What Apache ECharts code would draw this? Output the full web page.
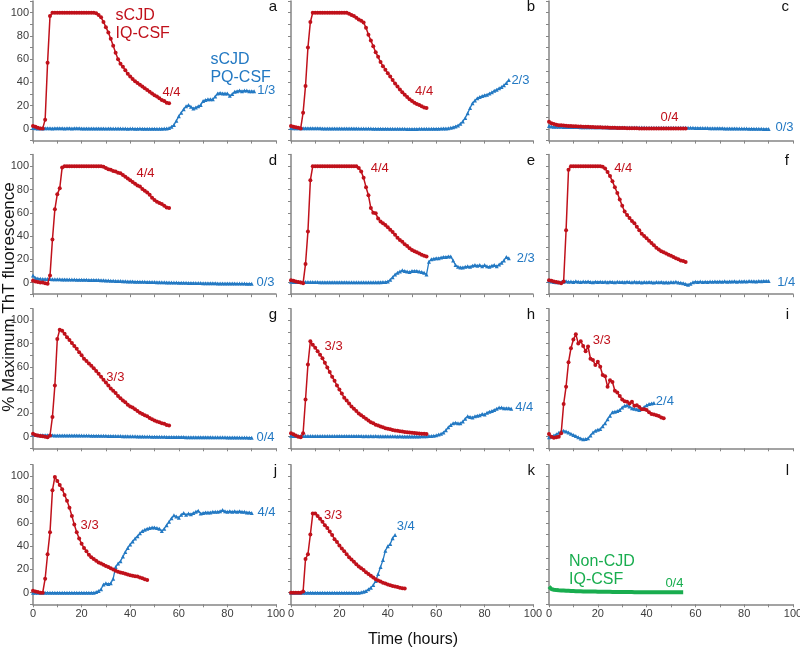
<!DOCTYPE html>
<html><head><meta charset="utf-8">
<script src="https://cdn.jsdelivr.net/npm/echarts@6/dist/echarts.min.js"></script>
<style>html,body{margin:0;padding:0;background:#fff}#c{width:800px;height:650px}</style>
</head><body><div id="c"></div>
<script>
// ---------- DATA (one sample per hour starting at 0 h) ----------
const SAMPLE_STEP_HOURS = 1;
const panelLetters = ['a','b','c','d','e','f','g','h','i','j','k','l'];
const xTickLabels = [0,20,40,60,80,100];
const yTickLabels = [0,20,40,60,80,100];

const red_a = [2.5,2,1,0.5,0.5,8,57,97,100,100, 100,100,100,100,100,100,100,100,100,100, 100,100,100,100,100,100,99.5,98,96,92, 87.5,83,77.5,71.5,65.5,60,56,53.5,50.5,47.5, 45,43,41,39.5,38,36.5,35,33.5,32,30.5, 29,28,26.5,25,24,22.5,22];
const blue_a = [0.8,0.6,0.5,0.6,0.5,0.6,0.7,0.6,0.5,0.6, 0.6,0.7,0.6,0.5,0.6,0.6,0.5,0.6,0.7,0.6, 0.5,0.5,0.4,0.5,0.5,0.4,0.4,0.5,0.4,0.4, 0.3,0.4,0.4,0.3,0.3,0.4,0.3,0.3,0.3,0.2, 0.3,0.3,0.2,0.2,0.3,0.2,0.2,0.2,0.1,0.2, 0.2,0.1,0.1,0.2,0.3,0.4,
  0.8,1.8,3.5,7,11,14,17,19.5,20.5,19, 17.5,18.5,19.5,20.5,24,25,25.5,25.5,25.5,28, 30.5,31,30.5,30.5,30.5,28.5,30,32,32.5,33, 32.5,33,33,32.5,32.5,32.5];

const red_b = [2.5,2,1.5,1,0.5,14,37,70,92,100, 100,100,100,100,100,100,100,100,100,100, 100,100,100,100,99,98,97,95.5,94,93, 91.5,87,81,76,71,66,62,57.5,54,51, 48,45,42,39,36.5,34,31.5,29.5,27.5,25.5, 24,22.5,21.5,20.5,19.5,18.5,18];
const blue_b = [0.8,0.7,0.6,0.6,0.6,0.6,0.6,0.6,0.6,0.6, 0.6,0.6,0.6,0.5,0.5,0.5,0.5,0.5,0.5,0.5, 0.5,0.4,0.4,0.4,0.4,0.4,0.4,0.4,0.3,0.3, 0.3,0.3,0.3,0.3,0.2,0.2,0.2,0.2,0.2,0.2, 0.2,0.1,0.1,0.1,0.1,0.1,0.1,0.1,0,0, 0,0,0,0.1,0.1,0.1,0.1,0.1,0.1,0.2, 0.2,0.2,0.3,0.4,0.5,0.7,
  1,1.5,2.2,3,4.5,6.5,9.5,13.5,18,22, 24.5,26.5,27.5,28.3,29,29.5,30.5,31.5,32.8,33.8, 35,36,37.5,39.5,42];

const red_c = [6.2,5,4.2,3.6,3.3,3.1,2.9,2.7,2.6,2.5, 2.4,2.3,2.2,2.1,2,1.9,1.8,1.7,1.6,1.5, 1.5,1.4,1.3,1.2,1.2,1.1,1,1,0.9,0.9, 0.8,0.8,0.7,0.7,0.6,0.6,0.6,0.5,0.5,0.5, 0.5,0.4,0.4,0.4,0.4,0.4,0.3,0.3,0.3,0.3, 0.3,0.3,0.3,0.3,0.3,0.3,0.3];
const blue_c = [2.6,2.2,2,1.9,1.8,1.8,1.7,1.7,1.7,1.6, 1.6,1.6,1.6,1.5,1.5,1.5,1.5,1.5,1.4,1.4, 1.4,1.4,1.4,1.4,1.3,1.3,1.3,1.3,1.3,1.3, 1.3,1.2,1.2,1.2,1.2,1.2,1.2,1.2,1.2,1.2, 1.1,1.1,1.1,1.1,1.1,1.1,1.1,1.1,1.1,1.1, 1.1,1.1,1.1,1.1,1.1,1.1,1.1,1,1,1, 0.9,0.9,0.9,0.8,0.8,0.8,0.7,0.7,0.7,0.6, 0.6,0.6,0.5,0.5,0.5,0.4,0.4,0.4,0.3,0.3, 0.3,0.3,0.2,0.2,0.2,0.1,0.1,0.1,0,0, 0];

const red_d = [1.5,1,0.5,0,0,-0.5,-1,6,37,63, 76,81,99,100,100,100,100,100,100,100, 100,100,100,100,100,100,100,100,100,99.5, 98.5,97.5,97,96,95.5,94.5,94,92.5,91,89.5, 88,86.5,85,83.5,82.5,80.5,79,77.5,75.5,73, 71,69.5,68.5,67.5,66,64.5,64];
const blue_d = [6,4,3.5,3.2,3,3,3,3,2.8,2.8, 2.8,2.8,2.7,2.7,2.7,2.6,2.6,2.6,2.5,2.5, 2.5,2.4,2.4,2.3,2.3,2.2,2.2,2.1,2,1.9, 1.8,1.7,1.6,1.5,1.4,1.3,1.3,1.2,1.1,1, 1,0.9,0.8,0.8,0.7,0.6,0.6,0.5,0.5,0.4, 0.4,0.3,0.3,0.2,0.2,0.1,0.1,0,0,0, -0.1,-0.1,-0.2,-0.2,-0.3,-0.3,-0.3,-0.4,-0.4,-0.4, -0.5,-0.5,-0.5,-0.6,-0.6,-0.6,-0.7,-0.7,-0.7,-0.7, -0.8,-0.8,-0.8,-0.8,-0.9,-0.9,-0.9,-0.9,-1,-1, -1];

const red_e = [2,1.5,1,0.5,0,-0.5,16,44,88,100, 100,100,100,100,100,100,100,100,100,100, 100,100,100,100,100,100,100,100,98.5,95.5, 90,82,75,64,60,59.5,55,52.5,51,49.5, 47.5,45.5,43.5,41,38.5,36.5,35,33,31.5,29.5, 28,27,26,25,24,23,22.5];
const blue_e = [0.6,0.5,0.5,0.4,0.4,0.4,0.4,0.4,0.4,0.4, 0.4,0.4,0.3,0.3,0.3,0.3,0.3,0.3,0.3,0.3, 0.3,0.3,0.3,0.3,0.2,0.2,0.2,0.2,0.2,0.2, 0.2,0.2,0.2,0.2,0.2,0.2,0.3,0.3,0.4,0.5,
  1,2.5,4.5,7,8.5,9.5,10.5,10,9.5,9, 10,10,10,9.5,9,8.5,7,18,20,20.5, 21,21,21.5,22,22,22.5,22.5,19,15,13.5, 13,13,13.5,14,13.5,14.5,15,14.5,15,14, 15,14,13.5,14.5,15,14,15.5,17,19,22, 21];

const red_f = [2,1.5,1,0.5,0,-0.5,1,45,97,100, 100,100,100,100,100,100,100,100,100,100, 100,100,99.5,98,95,91.5,87,82,77,71.5, 66,61,58,55.5,53,51,48,45,42,40, 38,36,34,32,30,28.5,27,26,25,24, 23,22,21,20,19,18.5,17.7];
const blue_f = [1.5,1,0.5,0.2,0.3,0.5,0.8,1.2,0.6,0.9, 0.5,1.1,0.7,0.4,0.9,0.6,1,0.5,0.3,0.7, 0.5,0.8,0.4,0.6,0.3,0.7,0.5,0.2,0.6,0.4, 0.5,0.3,0.7,0.4,0.2,0.6,0.3,0.5,0.1,0.4, 0.2,0.5,0.3,0,0.4,0.2,0.5,0.1,0.3,0, 0.4,0.2,0.6,0.1,-0.2,-0.5,-1.2,-1.8,-1,0.2, 0.8,0.5,0.9,0.4,0.7,0.5,0.9,0.6,1,0.7, 0.9,0.8,1.1,0.7,1,0.9,1.2,0.8,1.1,1, 1.2,0.9,1.3,1.1,1.2,1,1.3,1.2,1.4,1.3, 1.4];

const red_g = [2.5,1.5,1,0.5,0.3,0,-0.5,1,17,44, 84,92,91,88.5,85.5,83,80.5,78,75.5,72.5, 70,67,65,63,61,58.8,56.5,54,51.5,49, 46.5,44,41.5,39.5,37.5,35,33,31,29.5,27.5, 26,25,23.5,22,20.5,19.5,18.5,17.5,16,15, 14,13,12.5,11.5,11,10,9.5];
const blue_g = [1.8,1.5,1.3,1.2,1.2,1.2,1.2,1.2,1.2,1.1, 1.1,1.1,1.1,1.1,1,1,1,1,1,1, 0.9,0.9,0.9,0.9,0.8,0.8,0.8,0.8,0.7,0.7, 0.7,0.6,0.6,0.6,0.5,0.5,0.5,0.4,0.4,0.4, 0.3,0.3,0.3,0.2,0.2,0.2,0.1,0.1,0.1,0, 0,0,-0.1,-0.1,-0.1,-0.2,-0.2,-0.2,-0.2,-0.3, -0.3,-0.3,-0.3,-0.4,-0.4,-0.4,-0.4,-0.4,-0.5,-0.5, -0.5,-0.5,-0.5,-0.5,-0.6,-0.6,-0.6,-0.6,-0.6,-0.6, -0.7,-0.7,-0.7,-0.7,-0.7,-0.8,-0.8,-0.8,-0.8,-0.9, -0.9];

const red_h = [3,2,1,0,-0.5,3,32,62,82,79, 76.5,73.5,70.5,67.5,63.5,59.5,55.5,51.5,48,44, 40.5,37,33.5,31,28.5,26,24,22,20,18.5, 17,15.5,14,12.5,11.5,10.3,9.5,8.7,8,7.3, 6.8,6.3,5.8,5.4,5,4.7,4.4,4.1,3.8,3.6, 3.4,3.2,3,2.8,2.6,2.4,2.3];
const blue_h = [0.8,0.6,0.5,0.5,0.5,0.5,0.5,0.5,0.5,0.5, 0.5,0.5,0.5,0.5,0.5,0.5,0.5,0.5,0.5,0.5, 0.6,0.5,0.6,0.5,0.6,0.5,0.6,0.5,0.6,0.5, 0.4,0.5,0.4,0.5,0.4,0.5,0.4,0.4,0.3,0.4, 0.3,0.3,0.3,0.3,0.2,0.3,0.2,0.2,0.2,0.2, 0.2,0.2,0.2,0.2,0.3,0.3,0.4,0.5,0.6,
  0.8,1.2,1.8,2.5,3.5,5.5,8,10,11.5,12, 11.5,11.5,13,15.5,17.5,17,16.5,17.5,18,18.5, 19.5,19,20.5,21.5,22,23,24,25,25,24.5, 24.5,24.5,24];

const red_i = [2.3,0,-1,-0.5,0,3,28,43,64,76, 83.5,88,80,82,78,73.5,77.5,67,66,61.5, 64.5,60,53,52,43,48.5,47,39.5,38,35, 32,30.5,30,28.5,30,26.5,27,25.5,23.5,23.5, 23,21,19.5,19,18.5,17.8,16.5,15.8];
const blue_i = [-0.5,0,1,2,3.4,4.5,5,4.5,3.5,2.5, 1.5,0.5,-0.5,-1.5,-2.3,-2,-1.4,1,3.5,5, 6,6.5,9,11.5,15,18,21,21.5,22,23, 25,26.5,27,26,24.5,24,23.5,23,24,25.5, 27,28,28.5,29];

const red_j = [1.7,1,0.5,0,0,12,33,52,88,99.5, 96,92.5,89,84,79,73,66,58.5,52,46.5, 42,38.5,35.5,32.5,30.5,29,27.5,26,25,24, 23,22,21,20,18.8,18,17.3,16.8,16.2,15.6, 15,14.5,14.2,13.8,13,12.4,11.6,10.9];
const blue_j = [0,0,0,0,0,0,0,0,0,0, 0,0,0,0,0,0,0,0,0,0, 0,0,0,0,0,0,
  0.5,1.5,3,7,8,7.5,8,12,22,25, 27,31,35,38.5,41.5,44,46.5,48.5,51,53, 54,55,55.5,56,56,55.5,55,53,55,58, 61,64,66.5,65.5,64.5,67,68.5,67,68,67.5, 68.5,69.5,70.5,68,68.5,69,69,69,69.5,69.5, 69.5,70,71,70,69.5,70,69.5,70,69.5,70, 69.5,69.5,69,69,68.5];

const red_k = [0,0,0,0,0,1,29,33,50,68, 68,66,63.5,61,58,55.5,52.5,49.5,46,43.5, 40.5,38,35.5,33,30.5,28.5,26.5,24.5,22.5,21, 19.5,17.5,16,14.5,13,11.5,10.5,9.5,8.5,7.8, 7,6.3,5.8,5.3,4.8,4.3,3.8,3.5];
const blue_k = [0,0,0,0,0,0,0,0,0,0, 0,0,0,0,0,0,0,0,0,0, 0,0,0,0,0,0,0,0,0,
  0.3,0.8,1.5,3,4.3,6.5,10,16,22,28,36,40,41.8,46.8,49.6];

const green_l = [5.2,3,2.5,2.2,2,1.9,1.8,1.7,1.6,1.5, 1.4,1.3,1.3,1.2,1.1,1.1,1,1,0.9,0.9, 0.8,0.8,0.8,0.7,0.7,0.7,0.6,0.6,0.6,0.6, 0.5,0.5,0.5,0.5,0.5,0.4,0.4,0.4,0.4,0.4, 0.4,0.3,0.3,0.3,0.3,0.3,0.3,0.3,0.3,0.3, 0.3,0.3,0.3,0.3,0.3,0.3];

const panelSeries = [
  {red: red_a, blue: blue_a}, {red: red_b, blue: blue_b}, {red: red_c, blue: blue_c},
  {red: red_d, blue: blue_d}, {red: red_e, blue: blue_e}, {red: red_f, blue: blue_f},
  {red: red_g, blue: blue_g}, {red: red_h, blue: blue_h}, {red: red_i, blue: blue_i},
  {red: red_j, blue: blue_j}, {red: red_k, blue: blue_k}, {green: green_l}
];

// annotation texts with their anchor in data units (hours, %)
const annotationTexts = [
  {p:0, c:'red', text:'sCJD\nIQ-CSF', t:34, v:90, big:true},
  {p:0, c:'blue', text:'sCJD\nPQ-CSF', t:73, v:51.5, big:true},
  {p:0, c:'red', text:'4/4', t:57, v:31.8},
  {p:0, c:'blue', text:'1/3', t:96, v:33},
  {p:1, c:'red', text:'4/4', t:55, v:32},
  {p:1, c:'blue', text:'2/3', t:94.8, v:42},
  {p:2, c:'red', text:'0/4', t:49.4, v:9.5},
  {p:2, c:'blue', text:'0/3', t:96.5, v:1.3},
  {p:3, c:'red', text:'4/4', t:46.3, v:94},
  {p:3, c:'blue', text:'0/3', t:95.7, v:0},
  {p:4, c:'red', text:'4/4', t:36.7, v:98.3},
  {p:4, c:'blue', text:'2/3', t:97, v:21},
  {p:5, c:'red', text:'4/4', t:30.4, v:98.3},
  {p:5, c:'blue', text:'1/4', t:97.2, v:0.3},
  {p:6, c:'red', text:'3/3', t:33.9, v:50.5},
  {p:6, c:'blue', text:'0/4', t:95.7, v:-0.7},
  {p:7, c:'red', text:'3/3', t:17.6, v:78},
  {p:7, c:'blue', text:'4/4', t:96.4, v:25},
  {p:8, c:'red', text:'3/3', t:21.6, v:82.7},
  {p:8, c:'blue', text:'2/4', t:47.5, v:30.3},
  {p:9, c:'red', text:'3/3', t:23.3, v:58.2},
  {p:9, c:'blue', text:'4/4', t:96.1, v:69},
  {p:10, c:'red', text:'3/3', t:17.4, v:66},
  {p:10, c:'blue', text:'3/4', t:47.4, v:57},
  {p:11, c:'green', text:'Non-CJD\nIQ-CSF', t:8.2, v:19, big:true},
  {p:11, c:'green', text:'0/4', t:51.4, v:8.3}
];

// ---------- LAYOUT / STYLE ----------
const COLORS = {red:'#c0111b', blue:'#2379c3', green:'#19ad4f'};
const FONT = "'Liberation Sans', Arial, Helvetica, sans-serif";
const COL_LEFT = [33, 291, 549], COL_W = [243, 242, 244];
const ROW_TOP = [1, 154.6, 308.7, 464.7], ROW_H = 139.6;
const LETTER_RIGHT = [277, 535, 789];
const AXIS_COLOR = '#858585';

const toPairs = arr => arr.map((v, i) => [i * SAMPLE_STEP_HOURS, v]);

const grids = [], xAxes = [], yAxes = [], series = [], graphics = [];
panelSeries.forEach((ps, i) => {
  const col = i % 3, row = Math.floor(i / 3);
  grids.push({left: COL_LEFT[col], top: ROW_TOP[row], width: COL_W[col], height: ROW_H, containLabel: false, outerBoundsMode: 'none'});
  xAxes.push({
    type: 'value', gridIndex: i, min: 0, max: 100, interval: 10,
    axisLine: {onZero: false, lineStyle: {color: AXIS_COLOR, width: 1.5}},
    axisTick: {length: 3, lineStyle: {color: AXIS_COLOR, width: 1}},
    splitLine: {show: false},
    axisLabel: {show: row === 3, margin: 4, fontSize: 11, color: '#3c3c3c', fontFamily: FONT,
      formatter: v => xTickLabels.includes(v) ? String(v) : ''}
  });
  yAxes.push({
    type: 'value', gridIndex: i, min: -10, max: 110, interval: 10,
    axisLine: {show: true, onZero: false, lineStyle: {color: AXIS_COLOR, width: 1.5}},
    axisTick: {show: true, length: 3, lineStyle: {color: AXIS_COLOR, width: 1}},
    splitLine: {show: false},
    axisLabel: {show: col === 0, margin: 4, fontSize: 11, color: '#3c3c3c', fontFamily: FONT,
      formatter: v => yTickLabels.includes(v) ? String(v) : ''}
  });
  const marks = annotationTexts.filter(a => a.p === i).map(a => ({
    coord: [a.t, a.v], symbol: 'circle', symbolSize: 0,
    label: {show: true, position: 'inside', formatter: a.text, color: COLORS[a.c],
      fontSize: a.big ? 16 : 13, lineHeight: a.big ? 18 : 14, fontFamily: FONT,
      align: a.big ? 'left' : 'center', verticalAlign: 'middle'}
  }));
  const base = {type: 'line', xAxisIndex: i, yAxisIndex: i, animation: false, showAllSymbol: true, clip: false};
  if (ps.blue) series.push(Object.assign({}, base, {
    name: 'PQ-CSF', data: toPairs(ps.blue), symbol: 'triangle', symbolSize: 4,
    lineStyle: {color: COLORS.blue, width: 1.3}, itemStyle: {color: COLORS.blue}, z: 2
  }));
  if (ps.red) series.push(Object.assign({}, base, {
    name: 'IQ-CSF', data: toPairs(ps.red), symbol: 'circle', symbolSize: 4,
    lineStyle: {color: COLORS.red, width: 1.5}, itemStyle: {color: COLORS.red}, z: 3
  }));
  if (ps.green) series.push(Object.assign({}, base, {
    name: 'Non-CJD', data: toPairs(ps.green), symbol: 'none',
    lineStyle: {color: COLORS.green, width: 4}, z: 3
  }));
  series[series.length - 1].markPoint = {data: marks, animation: false, silent: true};
  graphics.push({type: 'text', right: null, x: LETTER_RIGHT[col], y: ROW_TOP[row] + 6,
    style: {text: panelLetters[i], fill: '#111', font: '15px ' + FONT, textAlign: 'right', textVerticalAlign: 'middle'}});
});

graphics.push({type: 'text', x: 413, y: 640,
  style: {text: 'Time (hours)', fill: '#111', font: '16px ' + FONT, textAlign: 'center', textVerticalAlign: 'middle'}});
graphics.push({type: 'text', x: 9, y: 297, rotation: Math.PI / 2,
  style: {text: '% Maximum ThT fluorescence', fill: '#111', font: '17px ' + FONT, textAlign: 'center', textVerticalAlign: 'middle'}});

const chart = echarts.init(document.getElementById('c'), null, {renderer: 'canvas'});
chart.setOption({
  animation: false, backgroundColor: '#fff',
  grid: grids, xAxis: xAxes, yAxis: yAxes, series: series, graphic: graphics
});
</script></body></html>
